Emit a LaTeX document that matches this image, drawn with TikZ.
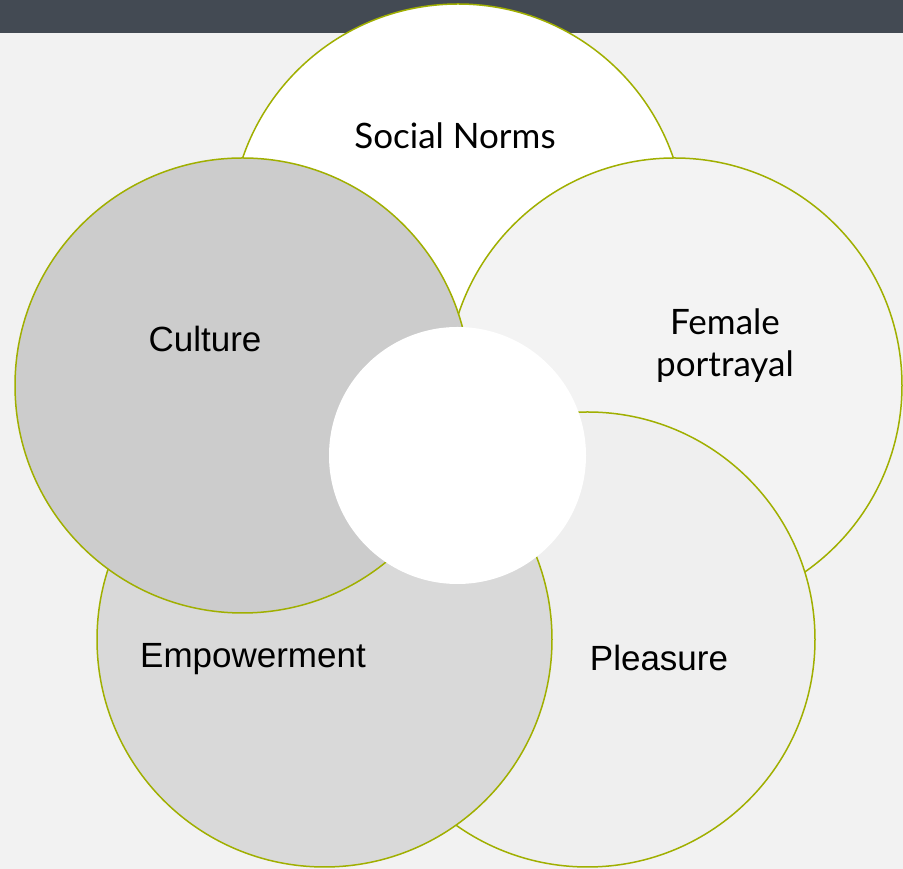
\documentclass[tikz,border=0pt]{standalone}
\usepackage{fontspec}
\setmainfont{Liberation Sans}
\newfontfamily\latofont{Lato}
\definecolor{bgc}{HTML}{F2F2F2}
\definecolor{barc}{HTML}{434A53}
\definecolor{olive}{HTML}{A0AF00}
\definecolor{femc}{HTML}{F3F3F3}
\definecolor{plc}{HTML}{EFEFEF}
\definecolor{empc}{HTML}{D9D9D9}
\definecolor{culc}{HTML}{CCCCCC}
\begin{document}
\begin{tikzpicture}[x=1pt,y=1pt,
  petal/.style={circle,draw=olive,line width=1.5pt,minimum size=455pt,inner sep=0pt},
  lbl/.style={font=\fontsize{35}{42}\selectfont,text=black,align=center},
  lato/.style={font=\latofont\fontsize{35}{42}\selectfont}]
\useasboundingbox (0,0) rectangle (903,869);
\fill[bgc] (0,0) rectangle (903,869);
\fill[barc] (0,836) rectangle (903,869);
\node[petal,fill=white] (soc) at (458,637.5) {};
\node[petal,fill=femc] (fem) at (674.5,483.5) {};
\node[petal,fill=plc] (ple) at (587.5,229.5) {};
\node[petal,fill=empc] (emp) at (324.5,229.5) {};
\node[petal,fill=culc] (cul) at (242.5,483.5) {};
\node[circle,fill=white,minimum size=257pt,inner sep=0pt] (mid) at (457.5,413.5) {};
\node[lbl,lato] (tsoc) at (455,733) {Social Norms};
\node[lbl] (tcul) at (205,530) {Culture};
\node[lbl,lato] (tfem) at (725,523) {Female\\portrayal};
\node[lbl] (temp) at (253,210) {Empowerment};
\node[lbl] (tple) at (659,211) {Pleasure};
\end{tikzpicture}
\end{document}
